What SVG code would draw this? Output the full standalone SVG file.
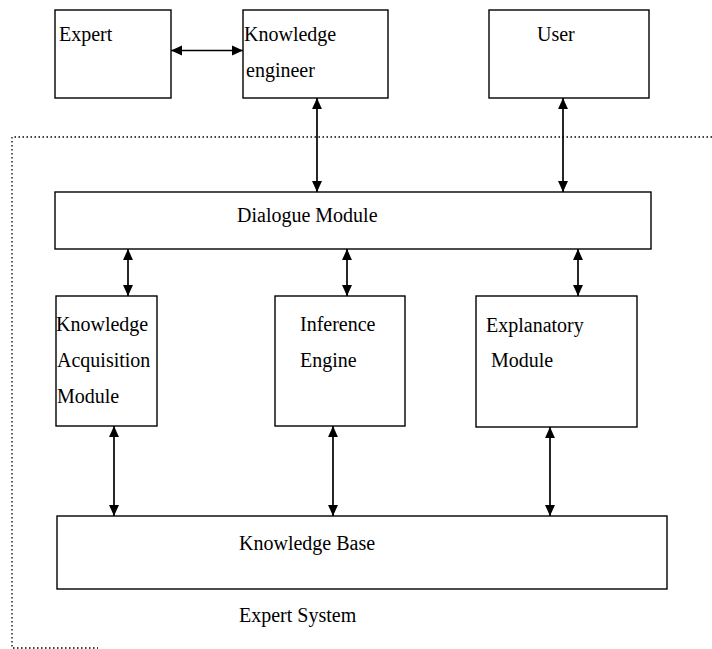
<svg xmlns="http://www.w3.org/2000/svg" width="712" height="649" viewBox="0 0 712 649">
<style>
.box{fill:#fff;stroke:#000;stroke-width:1.4}
.t{font-family:"Liberation Serif","Times New Roman",serif;font-size:20px;fill:#000}
.c{stroke:#000;stroke-width:1.7;fill:none;marker-start:url(#ah);marker-end:url(#ah)}
.dot{stroke:#000;stroke-width:1.3;fill:none;stroke-dasharray:1.5 2.5}
</style>
<defs>
<marker id="ah" viewBox="0 0 10 10" refX="10" refY="5" markerWidth="11" markerHeight="11" markerUnits="userSpaceOnUse" orient="auto-start-reverse">
<path d="M0,0.5 L10,5 L0,9.5 Z" fill="#000"/>
</marker>
</defs>
<rect width="712" height="649" fill="#fff"/>
<g id="boundary">
<path class="dot" d="M712,137 H12 V648 H98"/>
</g>
<g id="expert"><rect class="box" x="55" y="10" width="116" height="88"/><text class="t" x="59" y="41">Expert</text></g>
<g id="knowledge-engineer"><rect class="box" x="243" y="10" width="145" height="88"/><text class="t" x="244" y="41">Knowledge</text><text class="t" x="246" y="77">engineer</text></g>
<g id="user"><rect class="box" x="489" y="10" width="160" height="88"/><text class="t" x="537" y="41">User</text></g>
<g id="dialogue-module"><rect class="box" x="55" y="192" width="596" height="57"/><text class="t" x="237" y="222">Dialogue Module</text></g>
<g id="knowledge-acquisition-module"><rect class="box" x="56" y="296" width="101" height="130"/><text class="t" x="56" y="331">Knowledge</text><text class="t" x="57" y="367">Acquisition</text><text class="t" x="57" y="403">Module</text></g>
<g id="inference-engine"><rect class="box" x="275" y="296" width="130" height="130"/><text class="t" x="300" y="331">Inference</text><text class="t" x="300" y="367">Engine</text></g>
<g id="explanatory-module"><rect class="box" x="476" y="296" width="161" height="131"/><text class="t" x="486" y="332">Explanatory</text><text class="t" x="491" y="367">Module</text></g>
<g id="knowledge-base"><rect class="box" x="57" y="516" width="610" height="73"/><text class="t" x="239" y="550">Knowledge Base</text></g>
<g id="label"><text class="t" x="239" y="622">Expert System</text></g>
<g id="connectors">
<line class="c" x1="171" y1="50.5" x2="243" y2="50.5"/>
<line class="c" x1="317" y1="98" x2="317" y2="192"/>
<line class="c" x1="563" y1="98" x2="563" y2="192"/>
<line class="c" x1="128" y1="249" x2="128" y2="296"/>
<line class="c" x1="347" y1="249" x2="347" y2="296"/>
<line class="c" x1="578" y1="249" x2="578" y2="296"/>
<line class="c" x1="114" y1="426" x2="114" y2="516"/>
<line class="c" x1="333" y1="426" x2="333" y2="516"/>
<line class="c" x1="550" y1="427" x2="550" y2="516"/>
</g>
</svg>
